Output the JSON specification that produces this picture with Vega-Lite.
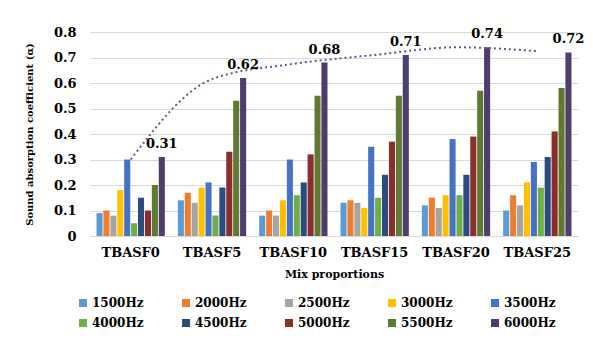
{
  "$schema": "https://vega.github.io/schema/vega-lite/v6.json",
  "width": 488,
  "height": 204,
  "autosize": {"type": "none"},
  "padding": {"left": 90, "top": 32, "right": 15, "bottom": 102},
  "background": "white",
  "config": {
    "font": "DejaVu Serif",
    "view": {"stroke": null}
  },
  "datasets": {
    "bars": [
      {"mix": "TBASF0", "freq": "1500Hz", "v": 0.09},
      {"mix": "TBASF0", "freq": "2000Hz", "v": 0.10},
      {"mix": "TBASF0", "freq": "2500Hz", "v": 0.08},
      {"mix": "TBASF0", "freq": "3000Hz", "v": 0.18},
      {"mix": "TBASF0", "freq": "3500Hz", "v": 0.30},
      {"mix": "TBASF0", "freq": "4000Hz", "v": 0.05},
      {"mix": "TBASF0", "freq": "4500Hz", "v": 0.15},
      {"mix": "TBASF0", "freq": "5000Hz", "v": 0.10},
      {"mix": "TBASF0", "freq": "5500Hz", "v": 0.20},
      {"mix": "TBASF0", "freq": "6000Hz", "v": 0.31},
      {"mix": "TBASF5", "freq": "1500Hz", "v": 0.14},
      {"mix": "TBASF5", "freq": "2000Hz", "v": 0.17},
      {"mix": "TBASF5", "freq": "2500Hz", "v": 0.13},
      {"mix": "TBASF5", "freq": "3000Hz", "v": 0.19},
      {"mix": "TBASF5", "freq": "3500Hz", "v": 0.21},
      {"mix": "TBASF5", "freq": "4000Hz", "v": 0.08},
      {"mix": "TBASF5", "freq": "4500Hz", "v": 0.19},
      {"mix": "TBASF5", "freq": "5000Hz", "v": 0.33},
      {"mix": "TBASF5", "freq": "5500Hz", "v": 0.53},
      {"mix": "TBASF5", "freq": "6000Hz", "v": 0.62},
      {"mix": "TBASF10", "freq": "1500Hz", "v": 0.08},
      {"mix": "TBASF10", "freq": "2000Hz", "v": 0.10},
      {"mix": "TBASF10", "freq": "2500Hz", "v": 0.08},
      {"mix": "TBASF10", "freq": "3000Hz", "v": 0.14},
      {"mix": "TBASF10", "freq": "3500Hz", "v": 0.30},
      {"mix": "TBASF10", "freq": "4000Hz", "v": 0.16},
      {"mix": "TBASF10", "freq": "4500Hz", "v": 0.21},
      {"mix": "TBASF10", "freq": "5000Hz", "v": 0.32},
      {"mix": "TBASF10", "freq": "5500Hz", "v": 0.55},
      {"mix": "TBASF10", "freq": "6000Hz", "v": 0.68},
      {"mix": "TBASF15", "freq": "1500Hz", "v": 0.13},
      {"mix": "TBASF15", "freq": "2000Hz", "v": 0.14},
      {"mix": "TBASF15", "freq": "2500Hz", "v": 0.13},
      {"mix": "TBASF15", "freq": "3000Hz", "v": 0.11},
      {"mix": "TBASF15", "freq": "3500Hz", "v": 0.35},
      {"mix": "TBASF15", "freq": "4000Hz", "v": 0.15},
      {"mix": "TBASF15", "freq": "4500Hz", "v": 0.24},
      {"mix": "TBASF15", "freq": "5000Hz", "v": 0.37},
      {"mix": "TBASF15", "freq": "5500Hz", "v": 0.55},
      {"mix": "TBASF15", "freq": "6000Hz", "v": 0.71},
      {"mix": "TBASF20", "freq": "1500Hz", "v": 0.12},
      {"mix": "TBASF20", "freq": "2000Hz", "v": 0.15},
      {"mix": "TBASF20", "freq": "2500Hz", "v": 0.11},
      {"mix": "TBASF20", "freq": "3000Hz", "v": 0.16},
      {"mix": "TBASF20", "freq": "3500Hz", "v": 0.38},
      {"mix": "TBASF20", "freq": "4000Hz", "v": 0.16},
      {"mix": "TBASF20", "freq": "4500Hz", "v": 0.24},
      {"mix": "TBASF20", "freq": "5000Hz", "v": 0.39},
      {"mix": "TBASF20", "freq": "5500Hz", "v": 0.57},
      {"mix": "TBASF20", "freq": "6000Hz", "v": 0.74},
      {"mix": "TBASF25", "freq": "1500Hz", "v": 0.10},
      {"mix": "TBASF25", "freq": "2000Hz", "v": 0.16},
      {"mix": "TBASF25", "freq": "2500Hz", "v": 0.12},
      {"mix": "TBASF25", "freq": "3000Hz", "v": 0.21},
      {"mix": "TBASF25", "freq": "3500Hz", "v": 0.29},
      {"mix": "TBASF25", "freq": "4000Hz", "v": 0.19},
      {"mix": "TBASF25", "freq": "4500Hz", "v": 0.31},
      {"mix": "TBASF25", "freq": "5000Hz", "v": 0.41},
      {"mix": "TBASF25", "freq": "5500Hz", "v": 0.58},
      {"mix": "TBASF25", "freq": "6000Hz", "v": 0.72}
    ],
    "trend": [
      {"mix": "TBASF0", "v": 0.30},
      {"mix": "TBASF5", "v": 0.615},
      {"mix": "TBASF10", "v": 0.675},
      {"mix": "TBASF15", "v": 0.71},
      {"mix": "TBASF20", "v": 0.74},
      {"mix": "TBASF25", "v": 0.725}
    ]
  },
  "encoding": {
    "x": {
      "field": "mix", "type": "nominal",
      "sort": ["TBASF0", "TBASF5", "TBASF10", "TBASF15", "TBASF20", "TBASF25"],
      "scale": {"paddingInner": 0.16, "paddingOuter": 0.08},
      "axis": {
        "title": "Mix proportions",
        "titleFont": "DejaVu Serif", "titleFontSize": 11, "titleFontWeight": "bold",
        "titleColor": "#000", "titlePadding": 9,
        "labelFont": "DejaVu Serif", "labelFontSize": 13, "labelFontWeight": "bold",
        "labelColor": "#000", "labelAngle": 0, "labelOverlap": false, "labelPadding": 10,
        "ticks": false, "domain": true, "domainColor": "#d9d9d9", "labelLimit": 200
      }
    },
    "y": {
      "field": "v", "type": "quantitative",
      "scale": {"domain": [0, 0.8]},
      "axis": {
        "title": "Sound absorption coefficient (α)",
        "titleFont": "DejaVu Serif", "titleFontSize": 10, "titleFontWeight": "bold",
        "titleColor": "#000", "titlePadding": 19,
        "labelFont": "DejaVu Serif", "labelFontSize": 13, "labelFontWeight": "bold",
        "labelColor": "#000", "labelPadding": 14, "labelOverlap": false,
        "values": [0, 0.1, 0.2, 0.3, 0.4, 0.5, 0.6, 0.7, 0.8],
        "format": ".1~f",
        "ticks": false, "domain": false,
        "grid": true, "gridColor": "#d9d9d9", "gridWidth": 1
      }
    }
  },
  "layer": [
    {
      "data": {"name": "bars"},
      "mark": {"type": "bar"},
      "encoding": {
        "xOffset": {
          "field": "freq", "type": "nominal",
          "sort": ["1500Hz", "2000Hz", "2500Hz", "3000Hz", "3500Hz", "4000Hz", "4500Hz", "5000Hz", "5500Hz", "6000Hz"],
          "scale": {"paddingInner": 0.12}
        },
        "color": {
          "field": "freq", "type": "nominal",
          "sort": ["1500Hz", "2000Hz", "2500Hz", "3000Hz", "3500Hz", "4000Hz", "4500Hz", "5000Hz", "5500Hz", "6000Hz"],
          "scale": {
            "domain": ["1500Hz", "2000Hz", "2500Hz", "3000Hz", "3500Hz", "4000Hz", "4500Hz", "5000Hz", "5500Hz", "6000Hz"],
            "range": ["#5B9BD5", "#ED7D31", "#A5A5A5", "#FFC000", "#4472C4", "#70AD47", "#2B4C7E", "#8B2E2E", "#5E7B30", "#4F3D6E"]
          },
          "legend": {
            "title": null,
            "orient": "none",
            "legendX": -13,
            "legendY": 265,
            "direction": "horizontal",
            "columns": 5,
            "columnPadding": 36,
            "rowPadding": 8,
            "symbolType": "square",
            "symbolSize": 64,
            "symbolStrokeWidth": 0,
            "labelFont": "DejaVu Serif", "labelFontSize": 12, "labelFontWeight": "bold",
            "labelColor": "#000", "labelOffset": 3
          }
        }
      }
    },
    {
      "data": {"name": "trend"},
      "mark": {"type": "line", "interpolate": "monotone", "color": "#5E5A8E", "strokeWidth": 2, "strokeDash": [2, 3]},
      "encoding": {}
    },
    {
      "data": {"name": "bars"},
      "transform": [{"filter": "datum.freq == '6000Hz'"}],
      "mark": {"type": "text", "dy": -13, "font": "DejaVu Serif", "fontSize": 13, "fontWeight": "bold", "color": "#000"},
      "encoding": {
        "xOffset": {"field": "freq", "type": "nominal", "sort": ["1500Hz", "2000Hz", "2500Hz", "3000Hz", "3500Hz", "4000Hz", "4500Hz", "5000Hz", "5500Hz", "6000Hz"]},
        "text": {"field": "v", "type": "quantitative", "format": ".2f"}
      }
    }
  ]
}
